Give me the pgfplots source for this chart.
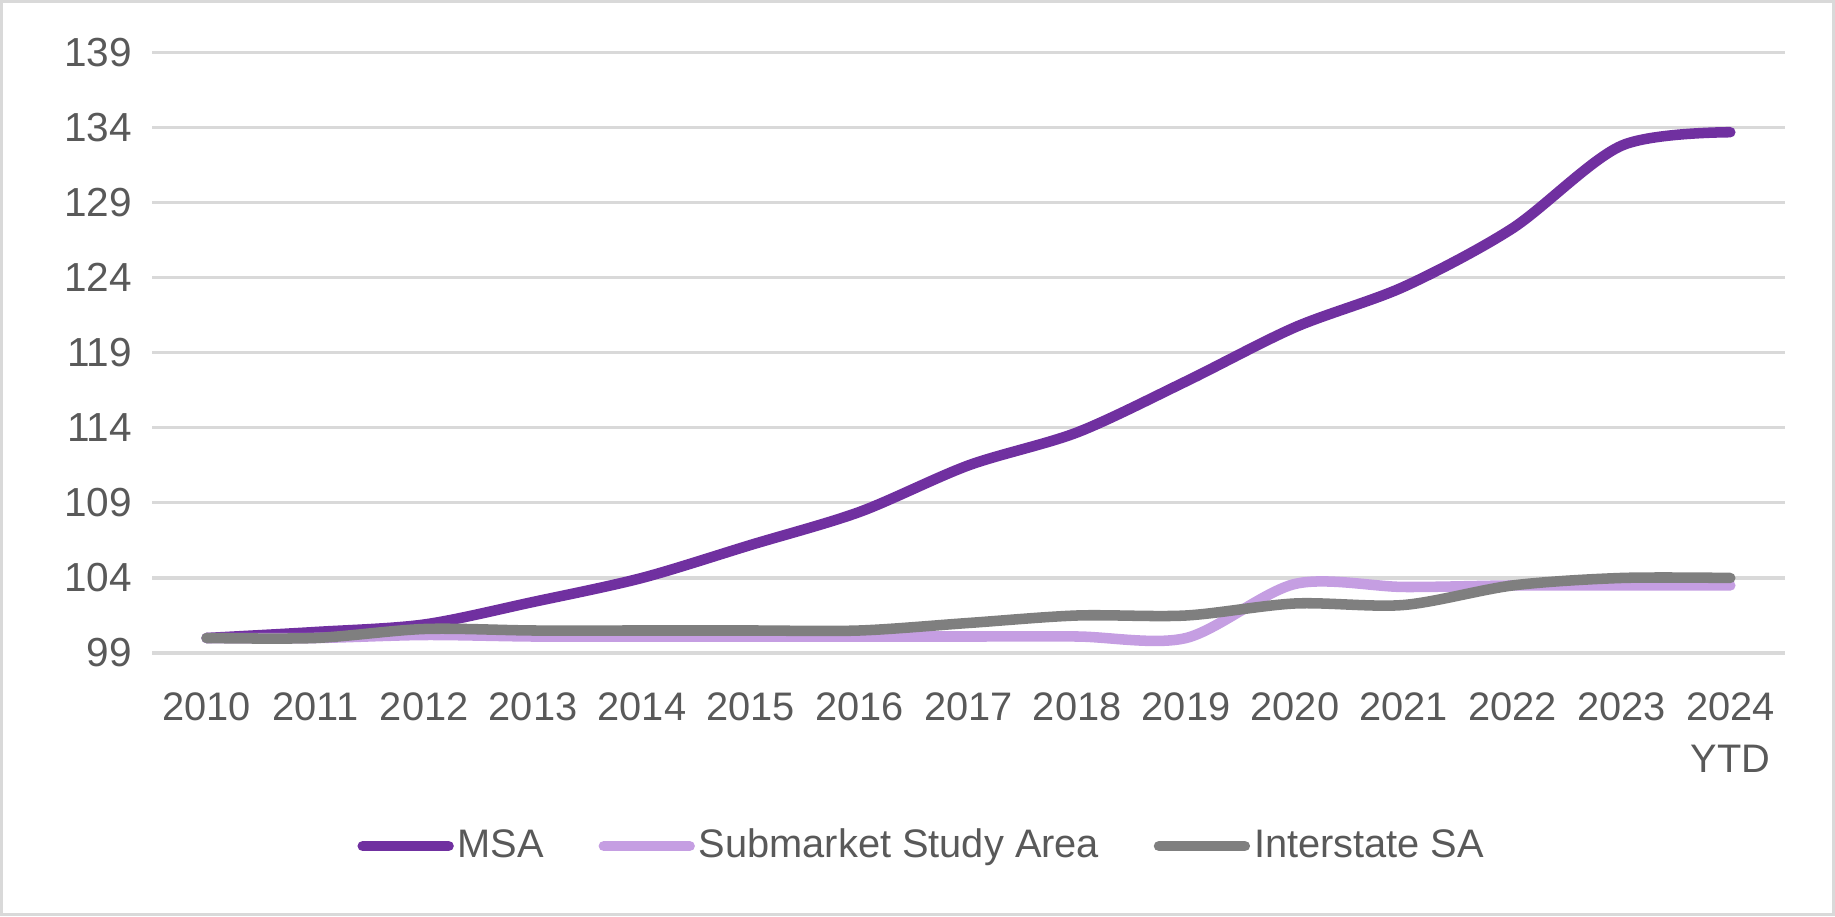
\documentclass[border=0pt]{standalone}
\usepackage{fontspec}
\setmainfont{Liberation Sans}
\usepackage{pgfplots}
\pgfplotsset{compat=1.18}
\definecolor{msa}{HTML}{7030A0}
\definecolor{sub}{HTML}{C59EE2}
\definecolor{inter}{HTML}{7F7F7F}
\definecolor{gridc}{HTML}{D9D9D9}
\definecolor{txt}{HTML}{595959}
\begin{document}
\begin{tikzpicture}
\draw[gridc, line width=0.8pt] (0.4pt,0.4pt) rectangle (470pt,234.5pt);
\begin{axis}[
  at={(39pt,67.5pt)}, anchor=south west,
  scale only axis, width=418.5pt, height=153.9pt,
  xmin=-0.5, xmax=14.5, ymin=99, ymax=139,
  axis line style={draw=none},
  major tick length=0pt,
  ytick={99,104,...,139},
  xtick={0,...,14},
  xticklabels={2010,2011,2012,2013,2014,2015,2016,2017,2018,2019,2020,2021,2022,2023,{2024\\YTD}},
  xticklabel style={align=center, yshift=-6.6pt, font=\fontsize{10.2}{13.5}\selectfont, text=txt},
  yticklabel style={xshift=-1.6pt, font=\fontsize{10.4}{12}\selectfont, text=txt},
  /pgf/number format/assume math mode=true,
  ymajorgrids, grid style={gridc, line width=0.8pt},
  legend columns=3,
  legend style={at={(0.472,-0.3216)}, anchor=center, draw=none, fill=none,
    font=\fontsize{10.2}{12}\selectfont, text=txt,
    /tikz/every even column/.append style={column sep=13pt},
    nodes={inner sep=1pt}},
  legend image code/.code={\draw[#1, line width=2.7pt, line cap=round] (0pt,0pt) -- (22pt,0pt);},
  every axis plot/.append style={line width=2.7pt, line cap=round, smooth, tension=0.5},
]
\addplot[color=msa] coordinates {
(0,100.0) (1,100.4) (2,100.9) (3,102.4) (4,104.0) (5,106.2) (6,108.4) (7,111.5) (8,113.7) (9,117.1) (10,120.7) (11,123.4) (12,127.3) (13,132.8) (14,133.7)};
\addlegendentry{MSA}
\addplot[color=sub] coordinates {
(0,100.0) (1,100.0) (2,100.2) (3,100.1) (4,100.1) (5,100.1) (6,100.1) (7,100.1) (8,100.1) (9,100.0) (10,103.6) (11,103.4) (12,103.5) (13,103.5) (14,103.5)};
\addlegendentry{Submarket Study Area}
\addplot[color=inter] coordinates {
(0,100.0) (1,100.0) (2,100.6) (3,100.5) (4,100.5) (5,100.5) (6,100.5) (7,101.0) (8,101.5) (9,101.5) (10,102.3) (11,102.2) (12,103.5) (13,104.0) (14,104.0)};
\addlegendentry{Interstate SA}
\end{axis}
\end{tikzpicture}
\end{document}
